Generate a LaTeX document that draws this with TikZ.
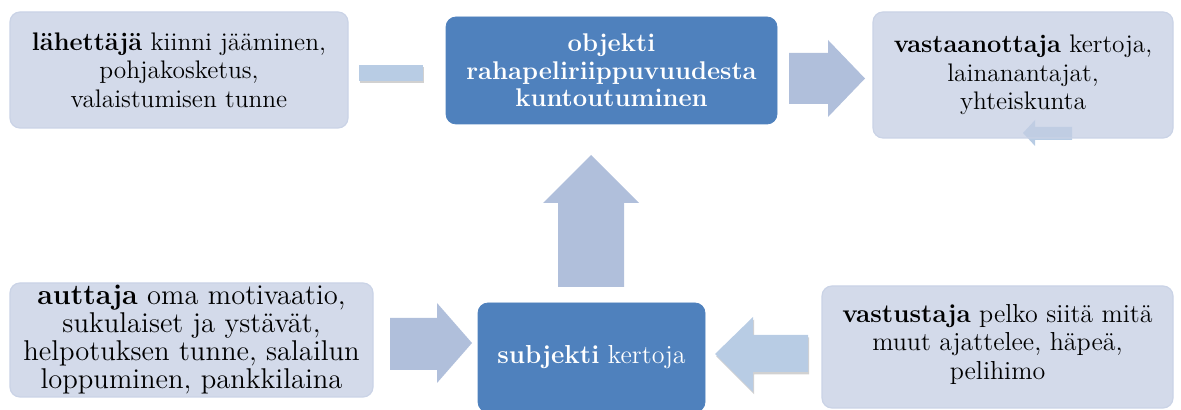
\documentclass[tikz,border=0pt]{standalone}
\usepackage{fontspec}
\usepackage{xcolor}
\usepackage{tikz}
\usetikzlibrary{shadows}

\definecolor{boxlight}{RGB}{211,218,234}
\definecolor{boxveil}{RGB}{196,206,227}
\definecolor{boxedge}{RGB}{202,211,230}
\definecolor{boxdark}{RGB}{79,129,189}
\definecolor{arrowblue}{RGB}{176,191,219}
\definecolor{arrowpale}{RGB}{184,204,228}

\tikzset{
  lightbox/.style={draw=boxedge, line width=0.6pt, fill=boxlight, rounded corners=5pt, align=center, inner sep=0pt},
  darkbox/.style={draw=boxdark, fill=boxdark, rounded corners=5pt, align=center, inner sep=0pt, text=white},
  softshadow/.style={drop shadow={shadow xshift=0.6pt, shadow yshift=-1.2pt, opacity=0.18, fill=black}}
}

\begin{document}
\begin{tikzpicture}[x=0.5pt,y=-0.5pt]
  \useasboundingbox (0,0) rectangle (1181,410);

  % Sender
  \node[lightbox, minimum width=169pt, minimum height=58pt, font=\fontsize{12.7}{14.25}\selectfont] (lahettaja) at (179,70)
    {\textbf{lähettäjä} kiinni jääminen,\\pohjakosketus,\\valaistumisen tunne};

  % Bar between sender and object
  \fill[arrowpale, softshadow] (359,65) rectangle (423,81);

  % Object
  \node[darkbox, minimum width=165.5pt, minimum height=53.5pt, font=\fontsize{12.8}{13.8}\selectfont\bfseries] (objekti) at (611.5,70.5)
    {objekti\\rahapeliriippuvuudesta\\kuntoutuminen};

  % Arrow object -> receiver
  \fill[arrowblue] (789,53) -- (828,53) -- (828,40) -- (865,78.5) -- (828,117) -- (828,104) -- (789,104) -- cycle;

  % Small arrow behind the receiver
  \fill[arrowpale] (1023,133) -- (1035,120) -- (1035,127) -- (1072,127) -- (1072,140) -- (1035,140) -- (1035,146) -- cycle;

  % Receiver
  \node[lightbox, fill=boxveil, fill opacity=0.75, text opacity=1, minimum width=150pt, minimum height=63pt, font=\fontsize{12.7}{14.25}\selectfont] (vastaanottaja) at (1023,75)
    {\textbf{vastaanottaja} kertoja,\\lainanantajat,\\yhteiskunta};

  % Arrow subject -> object
  \fill[arrowblue] (558,287) -- (558,203) -- (543,203) -- (591,155) -- (639,203) -- (624,203) -- (624,287) -- cycle;

  % Helper
  \node[lightbox, minimum width=181.5pt, minimum height=57pt, font=\fontsize{14.3}{14}\selectfont] (auttaja) at (191.5,340)
    {\textbf{auttaja} oma motivaatio,\\sukulaiset ja ystävät,\\helpotuksen tunne, salailun\\loppuminen, pankkilaina};

  % Arrow helper -> subject
  \fill[arrowblue] (390,318) -- (437,318) -- (437,303) -- (472,343) -- (437,383) -- (437,370) -- (390,370) -- cycle;

  % Subject
  \node[darkbox, minimum width=113.5pt, minimum height=54.5pt, font=\fontsize{13}{14}\selectfont] (subjekti) at (591.5,357.5)
    {\textbf{subjekti} kertoja};

  % Arrow opponent -> subject
  \fill[arrowpale, softshadow] (808,335) -- (753,335) -- (753,317) -- (715,354) -- (753,392) -- (753,372) -- (808,372) -- cycle;

  % Opponent
  \node[lightbox, minimum width=175.5pt, minimum height=61pt, font=\fontsize{13}{14.25}\selectfont] (vastustaja) at (997.5,347)
    {\textbf{vastustaja} pelko siitä mitä\\muut ajattelee, häpeä,\\pelihimo\\[-9pt]};
\end{tikzpicture}
\end{document}
